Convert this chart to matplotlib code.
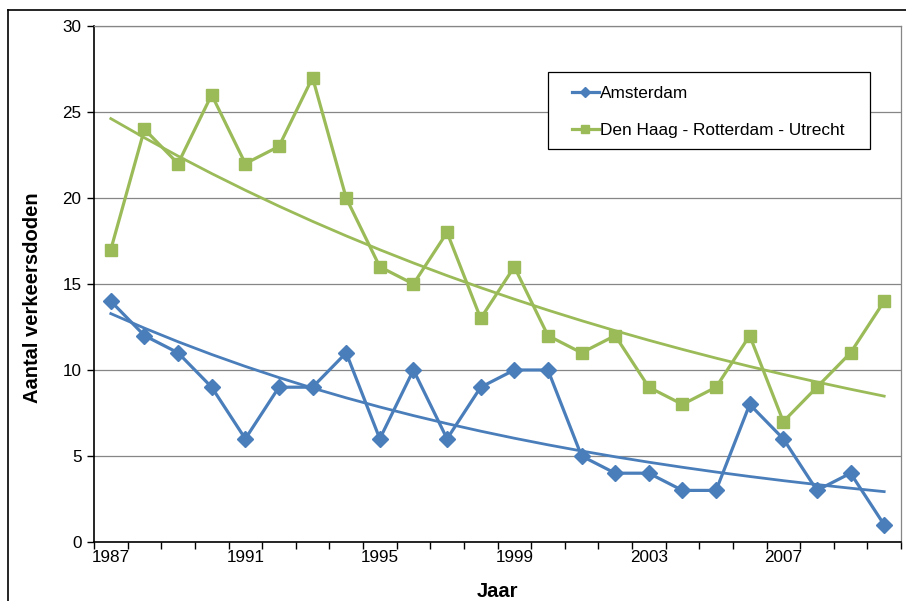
import numpy as np
import matplotlib
matplotlib.use("Agg")
import matplotlib.pyplot as plt
from matplotlib.lines import Line2D
from matplotlib.patches import Rectangle

plt.rcParams['font.family'] = ['Liberation Sans', 'DejaVu Sans']

years = list(range(1987, 2011))
amsterdam = [14, 12, 11, 9, 6, 9, 9, 11, 6, 10, 6, 9, 10, 10, 5, 4, 4, 3, 3, 8, 6, 3, 4, 1]
dhru = [17, 24, 22, 26, 22, 23, 27, 20, 16, 15, 18, 13, 16, 12, 11, 12, 9, 8, 9, 12, 7, 9, 11, 14]
tick_labels = ['1987', '1991', '1995', '1999', '2003', '2007']

blue = '#4A7EBB'
green = '#9BBB59'

fig = plt.figure(figsize=(9.06, 6.01), dpi=100)
ax = fig.add_axes([94/906, 1 - 542/601, (901 - 94)/906, (542 - 26)/601])

x = np.arange(len(years))


def exp_trend(vals):
    # excel-style exponential trendline
    b, a = np.polyfit(x, np.log(vals), 1)
    return np.exp(a + b * x)


ax.plot(x, amsterdam, color=blue, lw=2.3, marker='D', ms=8, label='Amsterdam', zorder=3)
ax.plot(x, dhru, color=green, lw=2.3, marker='s', ms=8, label='Den Haag - Rotterdam - Utrecht', zorder=3)
ax.plot(x, exp_trend(amsterdam), color=blue, lw=2, zorder=2)
ax.plot(x, exp_trend(dhru), color=green, lw=2, zorder=2)

ax.set_xlim(-0.5, len(years) - 0.5)
ax.set_ylim(0, 30)
ax.set_yticks(range(0, 31, 5))
ax.yaxis.grid(True, color='#868686', lw=0.9)
ax.set_axisbelow(True)

ax.set_xticks(np.arange(-0.5, len(years), 1))
ax.set_xticklabels([])
ax.set_xticks([years.index(int(t)) for t in tick_labels], tick_labels, minor=True)
ax.tick_params(axis='x', which='major', length=5, width=1, direction='out')
ax.tick_params(axis='x', which='minor', length=0, pad=6, labelsize=12.3)
ax.tick_params(axis='y', length=5, width=1, direction='out', labelsize=12.3, pad=4)

for s in ['left', 'bottom']:
    ax.spines[s].set_color('black')
    ax.spines[s].set_linewidth(1.2)
for s in ['top', 'right']:
    ax.spines[s].set_color('#868686')
    ax.spines[s].set_linewidth(0.9)

ax.set_xlabel('Jaar', fontsize=14.5, fontweight='bold', labelpad=12)
ax.set_ylabel('Aantal verkeersdoden', fontsize=14.5, fontweight='bold')
ax.yaxis.set_label_coords(-0.064, 0.473)

# legend box drawn separately to get Excel-like padding
ax.add_patch(Rectangle((0.5626, 0.7616), 0.399, 0.1492, transform=ax.transAxes,
                       facecolor='white', edgecolor='black', lw=0.9, zorder=4))
leg = ax.legend(loc='center left', bbox_to_anchor=(0.5923, 0.8333),
                frameon=False, fontsize=12.4,
                handlelength=1.55, handletextpad=0.05, labelspacing=1.3,
                borderpad=0, borderaxespad=0, markerscale=0.65)
leg.set_zorder(5)

# outer chart border (clipped at right and bottom)
fig.add_artist(Line2D([8/906, 1], [1 - 10/601, 1 - 10/601], color='black', lw=1.2, transform=fig.transFigure))
fig.add_artist(Line2D([8/906, 8/906], [0, 1 - 10/601], color='black', lw=1.2, transform=fig.transFigure))

fig.savefig('out.png', dpi=100)
